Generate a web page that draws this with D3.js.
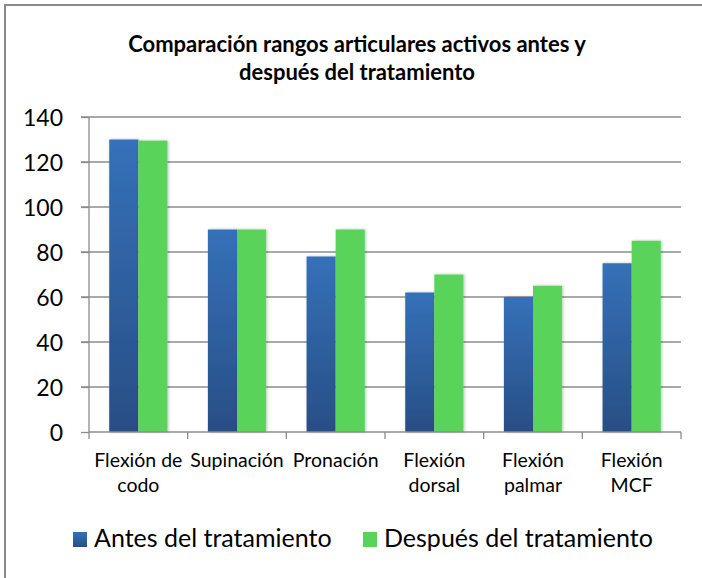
<!DOCTYPE html>
<html lang="es">
<head>
<meta charset="UTF-8">
<title>Comparación rangos articulares</title>
<script src="https://d3js.org/d3.v7.min.js"></script>
<style>
	body{margin:0;background:#fff}
	svg{display:block;font-family:Lato,"Open Sans",sans-serif}
</style>
</head>
<body>
<svg id="chart" width="702" height="578"></svg>
<script>
// datos
var categorias = [["Flexión de", "codo"], ["Supinación"], ["Pronación"], ["Flexión", "dorsal"], ["Flexión", "palmar"], ["Flexión", "MCF"]];
var antes = [130, 90, 78, 62, 60, 75];
var despues = [129.5, 90, 90, 70, 65, 85];
var series = ["Antes del tratamiento", "Después del tratamiento"];
var yTicks = [0, 20, 40, 60, 80, 100, 120, 140];

var svg = d3.select("#chart");
var mLeft = 89, mRight = 681, mTop = 117, mBottom = 432;

// marco
svg.append("path").attr("d", "M5,578 V5 H702").attr("fill", "none").attr("stroke", "#898989").attr("stroke-width", 2);

// título
svg.append("text").attr("x", 357).attr("y", 52).attr("text-anchor", "middle")
	.attr("font-size", 22).attr("font-weight", "bold").text("Comparación rangos articulares activos antes y");
svg.append("text").attr("x", 357).attr("y", 80).attr("text-anchor", "middle")
	.attr("font-size", 22).attr("font-weight", "bold").text("después del tratamiento");

var x = d3.scaleBand().domain(d3.range(categorias.length)).range([mLeft, mRight]).paddingInner(0.41).paddingOuter(0.205);
var x1 = d3.scaleBand().domain([0, 1]).range([0, x.bandwidth()]);
var y = d3.scaleLinear().domain([0, 140]).range([mBottom, mTop]);

// degradado azul
var defs = svg.append("defs");
var grad = defs.append("linearGradient").attr("id", "azul").attr("x1", 0).attr("y1", 0).attr("x2", 0).attr("y2", 1);
grad.append("stop").attr("offset", "0%").attr("stop-color", "#3571b9");
grad.append("stop").attr("offset", "100%").attr("stop-color", "#284e85");
var sombra = defs.append("filter").attr("id", "sombra").attr("x", "-20%").attr("y", "-5%").attr("width", "140%").attr("height", "110%");
sombra.append("feDropShadow").attr("dx", 1).attr("dy", 0).attr("stdDeviation", 1.5).attr("flood-color", "#000").attr("flood-opacity", 0.25);

// líneas de división
var grid = svg.append("g");
grid.selectAll("line").data(yTicks.slice(1)).join("line")
	.attr("x1", mLeft - 8).attr("x2", mRight).attr("y1", d => y(d)).attr("y2", d => y(d))
	.attr("stroke", "#8c8c8c").attr("stroke-width", 1.3);

// eje y
var yAxis = svg.append("g").attr("transform", "translate(" + mLeft + ",0)")
	.call(d3.axisLeft(y).tickValues(yTicks).tickSize(8).tickPadding(18));
yAxis.select(".domain").attr("stroke", "#8c8c8c").attr("stroke-width", 1.3).attr("d", "M0," + mTop + "V" + mBottom);
yAxis.selectAll(".tick line").attr("stroke", "#8c8c8c").attr("stroke-width", 1.3);
yAxis.selectAll("text").attr("font-size", 23).attr("fill", "#000").attr("font-family", "Lato,'Open Sans',sans-serif").attr("dy", "0.36em");

// barras
var grupos = svg.append("g").selectAll("g").data(categorias).join("g")
	.attr("transform", (d, i) => "translate(" + x(i) + ",0)");
grupos.append("rect").attr("x", x1(0)).attr("width", x1.bandwidth())
	.attr("y", (d, i) => y(antes[i])).attr("height", (d, i) => mBottom - y(antes[i]))
	.attr("fill", "url(#azul)").attr("filter", "url(#sombra)");
grupos.append("rect").attr("x", x1(1)).attr("width", x1.bandwidth())
	.attr("y", (d, i) => y(despues[i])).attr("height", (d, i) => mBottom - y(despues[i]))
	.attr("fill", "#5ad35a").attr("filter", "url(#sombra)");

// eje x
var step = (mRight - mLeft) / categorias.length;
var xAxis = svg.append("g");
xAxis.append("line").attr("x1", mLeft).attr("x2", mRight).attr("y1", mBottom).attr("y2", mBottom)
	.attr("stroke", "#8c8c8c").attr("stroke-width", 1.3);
xAxis.selectAll(".tk").data(d3.range(categorias.length + 1)).join("line").attr("class", "tk")
	.attr("x1", d => mLeft + d * step).attr("x2", d => mLeft + d * step)
	.attr("y1", mBottom).attr("y2", mBottom + 7).attr("stroke", "#8c8c8c").attr("stroke-width", 1.3);
var etiquetas = xAxis.selectAll(".lab").data(categorias).join("text").attr("class", "lab")
	.attr("text-anchor", "middle").attr("font-size", 19.5)
	.attr("transform", (d, i) => "translate(" + (x(i) + x.bandwidth() / 2) + "," + (mBottom + 35) + ")");
etiquetas.selectAll("tspan").data(d => d).join("tspan").attr("x", 0).attr("dy", (d, j) => j ? 25 : 0).text(d => d);

// leyenda
var leg = svg.append("g").attr("font-size", 25);
var legX = [73, 363];
series.forEach(function(s, i) {
	leg.append("rect").attr("x", legX[i]).attr("y", 532).attr("width", 14).attr("height", 15)
		.attr("fill", i ? "#5ad35a" : "url(#azul)");
	leg.append("text").attr("x", legX[i] + 21).attr("y", 547).text(s);
});
</script>
</body>
</html>
